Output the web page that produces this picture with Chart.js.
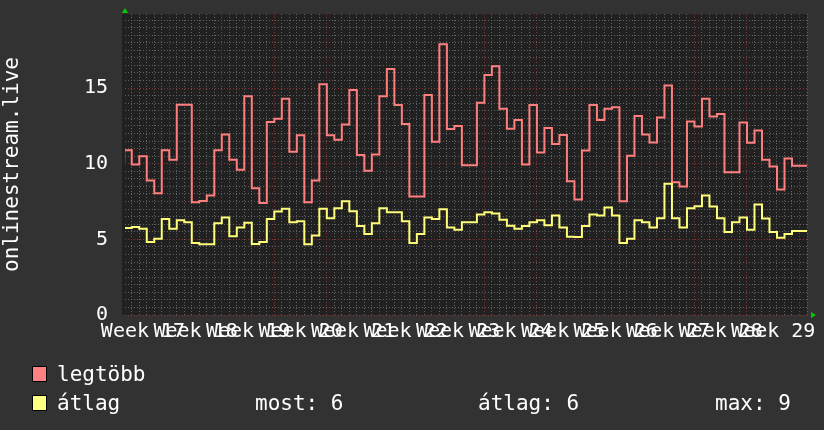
<!DOCTYPE html>
<html lang="hu">
<head>
<meta charset="UTF-8">
<title>onlinestream.live</title>
<script src="https://cdn.jsdelivr.net/npm/chart.js"></script>
<style>
  body { margin: 0; background: #323232; }
  #wrap { position: relative; width: 824px; height: 430px; }
  #chart { position: absolute; left: 0; top: 0; }
  .leg { position: absolute; font-family: 'DejaVu Sans Mono', monospace; font-size: 21px; line-height: 21px; color: #fff; white-space: pre; }
  .sq { position: absolute; width: 13px; height: 14px; border: 1px solid #000; }
</style>
</head>
<body>
<div id="wrap">
  <canvas id="chart" width="824" height="430"></canvas>
  <div class="sq" style="left:32px; top:366px; background:#ff8080"></div>
  <div class="leg" style="left:57px; top:364px">legtöbb</div>
  <div class="sq" style="left:32px; top:395px; background:#ffff80"></div>
  <div class="leg" style="left:57px; top:393px">átlag</div>
  <div class="leg" id="stNow" style="left:255px; top:393px"></div>
  <div class="leg" id="stAvg" style="left:478px; top:393px"></div>
  <div class="leg" id="stMax" style="left:715px; top:393px"></div>
</div>
<script>
// napi értékek, az első nap a -6. (az első heti rácsvonal a 0.)
const firstDay = -6;
const weekLabels = ['Week 17', 'Week 18', 'Week 19', 'Week 20', 'Week 21', 'Week 22', 'Week 23',
                    'Week 24', 'Week 25', 'Week 26', 'Week 27', 'Week 28', 'Week 29'];

const maxValues = [
  10.1, 10.9, 9.95, 10.5, 8.9, 8.05,
  10.9, 10.26, 13.9, 13.9, 7.45, 7.54, 7.9,
  10.9, 11.93, 10.26, 9.6, 14.47, 8.38, 7.4,
  12.76, 12.98, 14.3, 10.79, 11.89, 7.45, 8.9,
  15.26, 11.89, 11.58, 12.6, 14.87, 10.57, 9.54,
  10.61, 14.47, 16.27, 13.88, 12.63, 7.83, 7.83,
  14.54, 11.45, 17.9, 12.3, 12.5, 9.9, 9.9,
  14.04, 15.86, 16.45, 13.64, 12.32, 12.9, 9.95,
  13.88, 10.75, 12.37, 11.3, 11.9, 8.84, 7.63,
  10.88, 13.88, 12.9, 13.64, 13.73, 7.52, 10.53,
  13.16, 11.93, 11.4, 13.05, 15.17, 8.77, 8.5,
  12.8, 12.46, 14.3, 13.12, 13.29, 9.43, 9.43,
  12.72, 11.38, 12.19, 10.26, 9.82, 8.29, 10.35,
  9.87
];

const avgValues = [
  5.75, 5.75, 5.81, 5.7, 4.82, 5.04,
  6.34, 5.7, 6.27, 6.14, 4.76, 4.67, 4.67,
  6.07, 6.45, 5.2, 5.79, 6.1, 4.69, 4.82,
  6.34, 6.84, 7.02, 6.14, 6.2, 4.67, 5.26,
  7.02, 6.4, 7.06, 7.52, 6.86, 5.88, 5.35,
  6.07, 7.06, 6.8, 6.8, 6.2, 4.76, 5.35,
  6.45, 6.34, 6.99, 5.79, 5.64, 6.14, 6.14,
  6.64, 6.8, 6.71, 6.29, 5.9, 5.7, 5.88,
  6.14, 6.27, 5.94, 6.58, 5.79, 5.17, 5.15,
  5.88, 6.64, 6.58, 7.1, 6.58, 4.76, 5.04,
  6.27, 6.14, 5.79, 6.4, 8.68, 6.4, 5.79,
  7.06, 7.19, 7.9, 7.17, 6.4, 5.48, 6.14,
  6.45, 5.64, 7.3, 6.38, 5.48, 5.11, 5.35,
  5.55
];

const statNow = 'most: 6';
const statAvg = 'átlag: 6';
const statMax = 'max: 9';

document.getElementById('stNow').textContent = statNow;
document.getElementById('stAvg').textContent = statAvg;
document.getElementById('stMax').textContent = statMax;

const FONT = 'DejaVu Sans Mono';
const MINOR = '#626262';
const MAJOR = '#8c3434';
const NONE = 'rgba(0,0,0,0)';

// lépcsős vonalhoz: minden nap egy pont, a végére még egy
function toSteps(values) {
  const pts = values.map((v, i) => ({ x: firstDay + i, y: v }));
  pts.push({ x: firstDay + values.length, y: values[values.length - 1] });
  return pts;
}

// háttér + zöld nyilak
const decor = {
  id: 'decor',
  beforeDraw(chart) {
    const { ctx, chartArea: a } = chart;
    ctx.save();
    ctx.fillStyle = '#212121';
    ctx.fillRect(a.left - 3, a.top, a.right - a.left + 3, a.bottom - a.top);
    ctx.restore();
  },
  afterDraw(chart) {
    const { ctx, chartArea: a } = chart;
    ctx.save();
    ctx.fillStyle = '#00cc00';
    ctx.beginPath();
    ctx.moveTo(a.left - 3, a.top - 1);
    ctx.lineTo(a.left + 3, a.top - 1);
    ctx.lineTo(a.left, a.top - 6);
    ctx.closePath();
    ctx.fill();
    ctx.beginPath();
    ctx.moveTo(a.right + 4, a.bottom - 3);
    ctx.lineTo(a.right + 4, a.bottom + 3);
    ctx.lineTo(a.right + 9, a.bottom);
    ctx.closePath();
    ctx.fill();
    ctx.restore();
  }
};

new Chart(document.getElementById('chart'), {
  type: 'line',
  data: {
    datasets: [
      {
        label: 'legtöbb',
        data: toSteps(maxValues),
        borderColor: '#ff7f7f',
        borderWidth: 2,
        pointRadius: 0,
        stepped: 'after',
        fill: false,
        order: 2
      },
      {
        label: 'átlag',
        data: toSteps(avgValues),
        borderColor: '#ffff7a',
        borderWidth: 2,
        pointRadius: 0,
        stepped: 'after',
        fill: false,
        order: 1
      }
    ]
  },
  plugins: [decor],
  options: {
    responsive: false,
    animation: false,
    layout: { padding: { top: 14, right: 17, left: 0, bottom: 0 } },
    plugins: {
      legend: { display: false },
      tooltip: { enabled: false }
    },
    scales: {
      x: {
        type: 'linear',
        min: -5.9,
        max: 85,
        afterBuildTicks: s => {
          const t = [];
          for (let v = -5.5; v <= 85; v += 0.5) t.push({ value: v });
          s.ticks = t;
        },
        afterFit: s => {
          s.height = 115;
          s.paddingLeft = 0;
          s.paddingRight = 0;
        },
        ticks: {
          autoSkip: false,
          maxRotation: 0,
          minRotation: 0,
          padding: 5,
          color: '#ffffff',
          font: { family: FONT, size: 20 },
          callback: v => {
            const k = (v + 3.5) / 7;
            return Number.isInteger(k) && k >= 0 && k < weekLabels.length ? weekLabels[k] : '';
          }
        },
        grid: {
          drawTicks: false,
          color: c => {
            const v = c.tick.value;
            if (!Number.isInteger(v)) return NONE;
            return ((v % 7) + 7) % 7 === 0 ? MAJOR : MINOR;
          }
        },
        border: { display: false, dash: [1, 2] }
      },
      y: {
        min: 0,
        max: 19.9,
        afterBuildTicks: s => {
          const t = [];
          for (let v = 0; v <= 19.5; v += 0.5) t.push({ value: v });
          s.ticks = t;
        },
        afterFit: s => {
          s.width = 125;
          s.paddingTop = 0;
          s.paddingBottom = 0;
        },
        ticks: {
          autoSkip: false,
          padding: 17,
          color: '#ffffff',
          font: { family: FONT, size: 20 },
          callback: v => (v % 5 === 0 ? String(v) : '')
        },
        title: {
          display: true,
          text: 'onlinestream.live',
          color: '#ffffff',
          font: { family: FONT, size: 21 },
          padding: { top: 0, bottom: 0 }
        },
        grid: {
          drawTicks: false,
          color: c => (c.tick.value % 5 === 0 ? MAJOR : MINOR)
        },
        border: { display: false, dash: [1, 2] }
      }
    }
  }
});
</script>
</body>
</html>
